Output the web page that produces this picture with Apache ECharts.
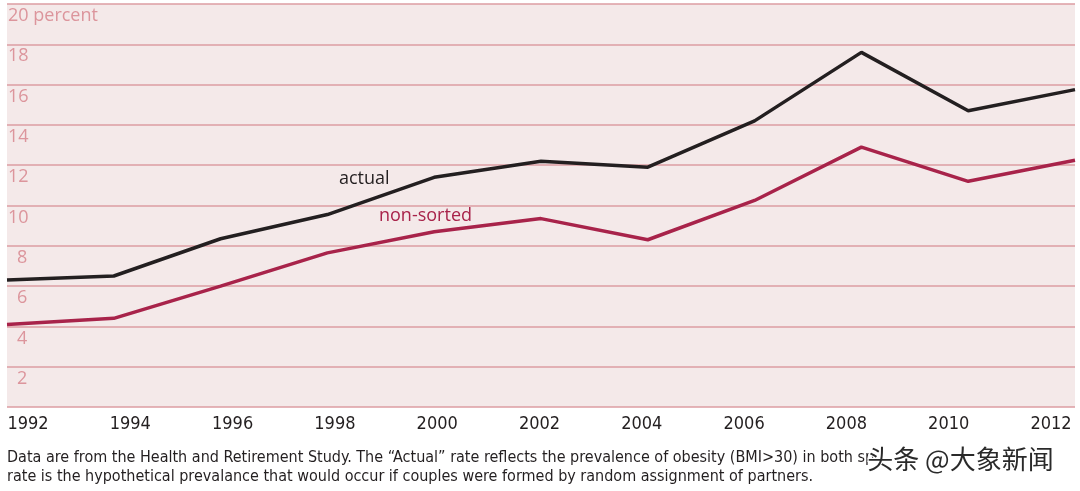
<!DOCTYPE html>
<html>
<head>
<meta charset="utf-8">
<script src="https://cdn.jsdelivr.net/npm/echarts@6/dist/echarts.min.js"></script>
<style>
html,body{margin:0;padding:0;background:#fff;}
#c{width:1080px;height:491px;}
</style>
</head>
<body>
<div id="c"></div>
<script>
const years = ['1992','1994','1996','1998','2000','2002','2004','2006','2008','2010','2012'];
const actual = [6.3, 6.5, 8.35, 9.55, 11.4, 12.2, 11.9, 14.2, 17.6, 14.7, 15.75];
const nonSorted = [4.1, 4.4, 6.0, 7.65, 8.7, 9.35, 8.3, 10.25, 12.9, 11.2, 12.25];
const yTicks = [0, 2, 4, 6, 8, 10, 12, 14, 16, 18, 20];
const footLine1 = 'Data are from the Health and Retirement Study. The \u201cActual\u201d rate reflects the prevalence of obesity (BMI>30) in both sp';
const footLine2 = 'rate is the hypothetical prevalance that would occur if couples were formed by random assignment of partners.';
const watermark = '头条 @大象新闻';

const narrow = '"Liberation Sans Narrow", "DejaVu Sans Condensed", "Liberation Sans", sans-serif';
const sans = '"Open Sans", "Noto Sans", sans-serif';
const pinkText = '#dc959c';
const gridPink = '#dd9ca2';

const chart = echarts.init(document.getElementById('c'), null, {renderer: 'canvas'});
chart.setOption({
  animation: false,
  backgroundColor: '#ffffff',
  grid: [
    {left: 7, right: 5, top: 4, bottom: 84, show: true, backgroundColor: '#f4e9e9', borderWidth: 0},
    {left: 28, right: 29, top: 4, bottom: 84, show: false}
  ],
  xAxis: [
    {type: 'category', gridIndex: 0, data: years, boundaryGap: false,
     axisLine: {show: false}, axisTick: {show: false}, axisLabel: {show: false}, splitLine: {show: false}},
    {type: 'category', gridIndex: 1, data: years, boundaryGap: false,
     axisLine: {show: false}, axisTick: {show: false}, splitLine: {show: false},
     axisLabel: {show: true, interval: 0, margin: 8, color: '#231f20', fontFamily: narrow, fontSize: 18}}
  ],
  yAxis: [
    {type: 'value', gridIndex: 0, min: 0, max: 20, interval: 2,
     axisLine: {show: false}, axisTick: {show: false},
     splitLine: {show: true, lineStyle: {color: gridPink, width: 1.5}},
     axisLabel: {
       inside: true, margin: 1, verticalAlign: 'top', showMinLabel: true, showMaxLabel: true,
       color: pinkText, fontFamily: sans, fontSize: 18, padding: [3, 0, 0, 0],
       formatter: function (v) {
         if (v === 0) return '';
         if (v === 20) return '{n|20 percent}';
         if (v < 10) return '{d|' + v + '}';
         return '{n|' + v + '}';
       },
       rich: {
         n: {color: pinkText, fontFamily: sans, fontSize: 18},
         d: {color: pinkText, fontFamily: sans, fontSize: 18, padding: [0, 0, 0, 9]}
       }
     }},
    {type: 'value', gridIndex: 1, min: 0, max: 20, show: false}
  ],
  series: [
    {name: 'actual', type: 'line', xAxisIndex: 0, yAxisIndex: 0, data: actual,
     symbol: 'none', lineStyle: {color: '#231f20', width: 3.5}, z: 3},
    {name: 'non-sorted', type: 'line', xAxisIndex: 0, yAxisIndex: 0, data: nonSorted,
     symbol: 'none', lineStyle: {color: '#a8234a', width: 3.5}, z: 3},
    {name: 'labels', type: 'line', xAxisIndex: 1, yAxisIndex: 1, data: [], symbol: 'none'}
  ],
  graphic: [
    {type: 'text', left: 339, top: 170, style: {text: 'actual', fill: '#231f20', font: '18px ' + sans}},
    {type: 'text', left: 379, top: 207, style: {text: 'non-sorted', fill: '#a8234a', font: '18px ' + sans}},
    {type: 'text', left: 7, top: 450, style: {text: footLine1, fill: '#231f20', font: '16px ' + narrow}},
    {type: 'text', left: 7, top: 469, style: {text: footLine2, fill: '#231f20', font: '16px ' + narrow}},
    {type: 'text', left: 866, top: 445, z: 10, style: {text: watermark, fill: '#2a2a2a', stroke: '#ffffff', lineWidth: 2.5,
      font: '26px "Noto Sans CJK SC", sans-serif'}}
  ]
});
</script>
</body>
</html>
